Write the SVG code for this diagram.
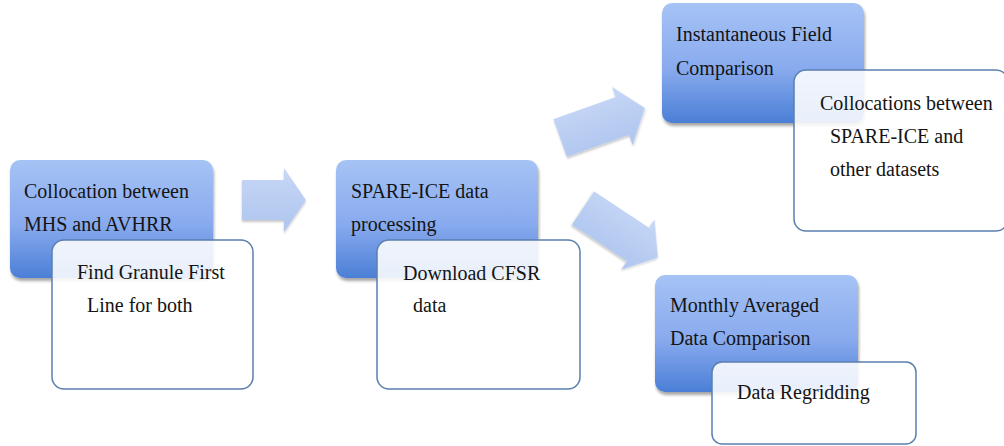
<svg xmlns="http://www.w3.org/2000/svg" width="1004" height="446" viewBox="0 0 1004 446">
<defs>
<linearGradient id="blueGrad" x1="0" y1="0" x2="0" y2="1">
<stop offset="0" stop-color="#a6c3f5"/>
<stop offset="0.55" stop-color="#88aaee"/>
<stop offset="1" stop-color="#4b7fd6"/>
</linearGradient>
<linearGradient id="arrowGrad" x1="0" y1="0" x2="0" y2="1">
<stop offset="0" stop-color="#c7d7f6"/>
<stop offset="1" stop-color="#aec5ef"/>
</linearGradient>
<filter id="shadow" x="-10%" y="-10%" width="130%" height="130%">
<feGaussianBlur in="SourceAlpha" stdDeviation="1.5"/>
<feOffset dx="1" dy="3" result="b"/>
<feComponentTransfer><feFuncA type="linear" slope="0.35"/></feComponentTransfer>
<feMerge><feMergeNode/><feMergeNode in="SourceGraphic"/></feMerge>
</filter>
<filter id="ashadow" x="-10%" y="-10%" width="130%" height="130%">
<feGaussianBlur in="SourceAlpha" stdDeviation="1"/>
<feOffset dx="0" dy="2" result="b"/>
<feComponentTransfer><feFuncA type="linear" slope="0.22"/></feComponentTransfer>
<feMerge><feMergeNode/><feMergeNode in="SourceGraphic"/></feMerge>
</filter>
</defs>
<style>
.blue{fill:url(#blueGrad);filter:url(#shadow);}
.white{fill:#ffffff;fill-opacity:0.88;stroke:#5b7fae;stroke-width:1.5;}
.arrow{fill:url(#arrowGrad);filter:url(#ashadow);}
text{font-family:"Liberation Serif","Times New Roman",serif;font-size:20px;fill:#141414;}
</style>
<rect width="1004" height="446" fill="#ffffff"/>
<g id="connectors">
<polygon class="arrow" points="242,180 284,180 284,168 306,200 284,232 284,220 242,220"/>
<polygon class="arrow" transform="translate(560,138) rotate(-19.5)" points="0,-20 66,-20 66,-31 90,0 66,31 66,20 0,20"/>
<polygon class="arrow" transform="translate(583,208) rotate(33.5)" points="0,-20 66,-20 66,-30 90,0 66,30 66,20 0,20"/>
</g>
<g id="node1">
<rect class="blue" x="10" y="160" width="203" height="118" rx="10"/>
<text x="24" y="198">Collocation between</text>
<text x="24" y="231">MHS and AVHRR</text>
</g>
<g id="node1-sub">
<rect class="white" x="52" y="240" width="201" height="149" rx="12"/>
<text x="77" y="279">Find Granule First</text>
<text x="87" y="312">Line for both</text>
</g>
<g id="node2">
<rect class="blue" x="336" y="160" width="202" height="118" rx="10"/>
<text x="351" y="198">SPARE-ICE data</text>
<text x="351" y="231">processing</text>
</g>
<g id="node2-sub">
<rect class="white" x="377" y="240" width="203" height="149" rx="12"/>
<text x="403" y="280">Download CFSR</text>
<text x="413" y="312">data</text>
</g>
<g id="node3">
<rect class="blue" x="662" y="3" width="202" height="120" rx="10"/>
<text x="676" y="41">Instantaneous Field</text>
<text x="676" y="75">Comparison</text>
</g>
<g id="node3-sub">
<rect class="white" x="794" y="70" width="214" height="161" rx="12"/>
<text x="820" y="110">Collocations between</text>
<text x="830" y="143">SPARE-ICE and</text>
<text x="830" y="176">other datasets</text>
</g>
<g id="node4">
<rect class="blue" x="655" y="275" width="203" height="117" rx="10"/>
<text x="670" y="312">Monthly Averaged</text>
<text x="670" y="345">Data Comparison</text>
</g>
<g id="node4-sub">
<rect class="white" x="712" y="362" width="204" height="82" rx="10"/>
<text x="737" y="399">Data Regridding</text>
</g>
</svg>
